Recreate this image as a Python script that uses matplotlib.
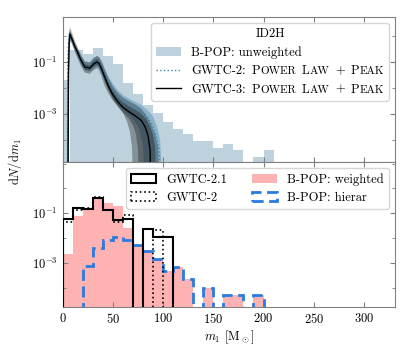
import numpy as np
import matplotlib
matplotlib.use("Agg")
import matplotlib.pyplot as plt
from matplotlib.offsetbox import TextArea, HPacker
from matplotlib.patches import Patch
from matplotlib.lines import Line2D
from matplotlib.ticker import FixedLocator, NullFormatter

plt.rcParams.update({
    "font.family": "serif",
    "font.serif": ["cmr10", "DejaVu Serif"],
    "mathtext.fontset": "cm",
    "axes.formatter.use_mathtext": True,
    "font.size": 9,
    "axes.edgecolor": "0.5",
    "xtick.color": "0.5",
    "ytick.color": "0.5",
    "xtick.labelcolor": "black",
    "ytick.labelcolor": "black",
    "xtick.direction": "in",
    "ytick.direction": "in",
    "xtick.top": True,
    "ytick.right": True,
})

# ---------------- data ----------------
# top panel: B-POP unweighted histogram
bpop_unw_edges = [0, 5.5, 7, 20, 30, 40, 50, 60, 70, 80, 90, 100, 110, 120,
                  130, 140, 150, 160, 170, 180, 190, 200, 210]
bpop_unw_vals = [0.02, 0, 0.29, 0.2, 0.33, 0.17, 0.083, 0.0145, 0.0055, 0.0022,
                 0.00107, 4.7e-4, 2.5e-4, 1.7e-4, 9e-5, 9e-5, 4.9e-5, 7e-5,
                 4e-5, 0, 2.2e-5, 3.9e-5]

# GWTC-3 Power Law + Peak (log10 dN/dm1)
g3_med_m = [5.3, 5.8, 6.5, 7.3, 9, 12, 15, 18, 22, 27, 31, 34, 36, 39, 42, 46,
            50, 55, 60, 66, 72, 78, 82, 85, 87, 88]
g3_med = [-6, -1.5, -0.3, 0.07, -0.1, -0.4, -0.65, -0.92, -1.2, -1.24, -1.08,
          -1.01, -1.05, -1.3, -1.6, -1.98, -2.27, -2.55, -2.76, -2.93, -3.08,
          -3.25, -3.5, -3.85, -4.4, -6]
g3_hi1_m = [5.0, 5.5, 6.5, 7.3, 9, 12, 15, 18, 22, 27, 31, 34, 36, 39, 42, 46,
            50, 55, 60, 66, 72, 78, 83, 87, 90, 92, 93]
g3_hi1 = [-6, -1.0, 0.0, 0.15, 0.0, -0.3, -0.55, -0.82, -1.1, -1.14, -0.97,
          -0.9, -0.93, -1.15, -1.45, -1.82, -2.1, -2.37, -2.56, -2.72, -2.85,
          -3.0, -3.2, -3.5, -3.85, -4.3, -6]
g3_lo1_m = [5.6, 6.2, 7.0, 7.5, 9, 12, 15, 18, 22, 27, 31, 34, 36, 39, 42, 46,
            50, 55, 60, 66, 70, 73, 75, 76]
g3_lo1 = [-6, -1.5, -0.3, -0.05, -0.2, -0.5, -0.75, -1.03, -1.3, -1.35, -1.2,
          -1.13, -1.18, -1.45, -1.78, -2.15, -2.45, -2.75, -2.98, -3.2, -3.45,
          -3.8, -4.4, -6]
g3_hi2_m = [4.6, 5.2, 6.0, 7.3, 9, 12, 15, 18, 22, 27, 31, 34, 36, 39, 42, 46,
            50, 55, 60, 66, 72, 78, 83, 88, 92, 95, 97]
g3_hi2 = [-6, -1.0, 0.1, 0.33, 0.15, -0.18, -0.45, -0.7, -0.98, -1.03, -0.85,
          -0.78, -0.8, -1.0, -1.3, -1.66, -1.95, -2.2, -2.38, -2.52, -2.64,
          -2.8, -3.05, -3.4, -3.8, -4.3, -6]
g3_lo2_m = [5.8, 6.5, 7.3, 8, 9, 12, 15, 18, 22, 27, 31, 34, 36, 39, 42, 46,
            50, 55, 60, 64, 67, 69, 70.5]
g3_lo2 = [-6, -1.5, -0.3, -0.2, -0.3, -0.6, -0.88, -1.15, -1.42, -1.47, -1.32,
          -1.25, -1.3, -1.6, -1.95, -2.25, -2.5, -2.7, -2.95, -3.3, -3.7, -4.3,
          -6]

# GWTC-2 Power Law + Peak (log10 dN/dm1)
g2_med_m = [4.6, 5.0, 6.0, 7.0, 9, 12, 15, 18, 22, 27, 31, 34, 36, 39, 42, 46,
            50, 55, 60, 66, 72, 78, 84, 89, 93, 96, 98]
g2_med = [-6, -1.0, -0.1, 0.02, -0.12, -0.42, -0.68, -0.92, -1.18, -1.2, -1.05,
          -0.98, -1.0, -1.22, -1.5, -1.85, -2.12, -2.38, -2.55, -2.68, -2.8,
          -2.92, -3.1, -3.4, -3.85, -4.4, -6]
g2_hi_m = [4.3, 4.8, 5.8, 7.0, 9, 12, 15, 18, 22, 27, 31, 34, 36, 39, 42, 46,
           50, 55, 60, 66, 72, 78, 84, 90, 94, 97, 100]
g2_hi = [-6, -1.0, 0.05, 0.2, 0.05, -0.25, -0.5, -0.75, -1.0, -1.02, -0.85,
         -0.8, -0.82, -1.0, -1.28, -1.6, -1.85, -2.1, -2.28, -2.42, -2.54,
         -2.66, -2.85, -3.1, -3.5, -4.0, -6]
g2_lo_m = [5.0, 5.6, 6.5, 7.5, 9, 12, 15, 18, 22, 27, 31, 34, 36, 39, 42, 46,
           50, 55, 60, 66, 72, 76, 80, 82]
g2_lo = [-6, -1.2, -0.25, -0.15, -0.28, -0.58, -0.85, -1.1, -1.36, -1.38,
         -1.25, -1.17, -1.2, -1.45, -1.75, -2.1, -2.4, -2.68, -2.88, -3.05,
         -3.3, -3.6, -4.2, -6]

# bottom panel histograms (10 Msun bins)
mass_edges = [0, 10, 20, 30, 40, 50, 60, 70, 80, 90, 100, 110, 120, 130, 140,
              150, 160, 170, 180, 190, 200]
gwtc21_vals = [0.059, 0.16, 0.15, 0.41, 0.13, 0.055, 0.060, 0, 0.023, 0.011,
               0.011, 0, 0, 0, 0, 0, 0, 0, 0, 0]
gwtc2_vals = [0.046, 0.13, 0.16, 0.45, 0.13, 0.046, 0.087, 0, 0, 0.021, 0, 0,
              0, 0, 0, 0, 0, 0, 0, 0]
bpop_w_vals = [2.2e-3, 0.079, 0.15, 0.37, 0.26, 0.2, 0.025, 5.4e-3, 2.9e-3,
               1.4e-3, 4.5e-4, 6.5e-4, 2.2e-4, 0, 1.0e-4, 0, 4.9e-5, 4.9e-5, 0,
               4.9e-5]
bpop_h_vals = [0, 0, 7.6e-4, 3.9e-3, 8.5e-3, 1.15e-2, 8.5e-3, 5.4e-3, 2.9e-3,
               1.4e-3, 4.5e-4, 6.5e-4, 2.2e-4, 0, 1.0e-4, 0, 4.9e-5, 4.9e-5, 0,
               4.9e-5]

FLOOR = 1e-12
def pos(v):
    v = np.asarray(v, dtype=float)
    return np.where(v > 0, v, FLOOR)

def band(ax, m_hi, hi, m_lo, lo, **kw):
    xs = np.concatenate([np.asarray(m_hi, float), np.asarray(m_lo, float)[::-1]])
    ys = np.concatenate([10.0 ** np.asarray(hi), 10.0 ** np.asarray(lo)[::-1]])
    ax.fill(xs, ys, **kw)

C_UNW = "#bdd2dc"
C_G2 = "#3f86b3"
C_RED = (1.0, 0.0, 0.0, 0.3)
C_HIER = "#2a7be0"

fig = plt.figure(figsize=(4.15, 3.46), dpi=100)
gs = fig.add_gridspec(2, 1, hspace=0, left=0.151, right=0.952, top=0.952,
                      bottom=0.1136)
ax1 = fig.add_subplot(gs[0])
ax2 = fig.add_subplot(gs[1], sharex=ax1)

# ---------- top panel ----------
ax1.set_yscale("log")
ax1.stairs(pos(bpop_unw_vals), bpop_unw_edges, fill=True, baseline=FLOOR,
           color=C_UNW, zorder=1)
band(ax1, g2_hi_m, g2_hi, g2_lo_m, g2_lo, color=C_G2, alpha=0.4, lw=0, zorder=2)
band(ax1, g3_hi2_m, g3_hi2, g3_lo2_m, g3_lo2, color="black", alpha=0.3, lw=0,
     zorder=3)
band(ax1, g3_hi1_m, g3_hi1, g3_lo1_m, g3_lo1, color="black", alpha=0.3, lw=0,
     zorder=4)
ax1.plot(g2_med_m, 10.0 ** np.asarray(g2_med), ls=":", color=C_G2, lw=1.0,
         zorder=5)
ax1.plot(g3_med_m, 10.0 ** np.asarray(g3_med), color="black", lw=1.0, zorder=6)

ax1.set_ylim(1.4e-5, 5.5)
ax1.tick_params(labelbottom=False)

h_top = [Patch(facecolor=C_UNW, edgecolor="none"),
         Line2D([], [], ls=":", color=C_G2, lw=1.0),
         Line2D([], [], color="black", lw=1.0)]
lab_top = ["B-POP: unweighted", "GWTC-2: Power Law + Peak",
           "GWTC-3: Power Law + Peak"]
leg1 = ax1.legend(h_top, lab_top, title="ID2H", loc="upper right",
                  fontsize=9, title_fontsize=9)

# ---------- bottom panel ----------
ax2.set_yscale("log")
ax2.stairs(pos(bpop_w_vals), mass_edges, fill=True, baseline=FLOOR,
           color=C_RED, lw=0, zorder=1)
ax2.stairs(pos(bpop_h_vals), mass_edges, fill=False, baseline=FLOOR,
           color=C_HIER, lw=2.0, ls=(0, (4, 2)), zorder=2)
ax2.stairs(pos(gwtc2_vals), mass_edges, fill=False, baseline=FLOOR,
           color="black", lw=1.2, ls=":", zorder=3)
ax2.stairs(pos(gwtc21_vals), mass_edges, fill=False, baseline=FLOOR,
           color="black", lw=1.5, zorder=4)
ax2.set_ylim(1.7e-5, 12)
ax2.set_xlim(0, 331)

h_bot = [Patch(facecolor="none", edgecolor="black", lw=1.5),
         Patch(facecolor="none", edgecolor="black", lw=1.2, ls=":"),
         Patch(facecolor=C_RED, edgecolor="none"),
         Patch(facecolor="none", edgecolor=C_HIER, lw=2.0, ls=(0, (4, 2)))]
lab_bot = ["GWTC-2.1", "GWTC-2", "B-POP: weighted", "B-POP: hierar"]
ax2.legend(h_bot, lab_bot, ncol=2, loc="upper right", fontsize=9)

for ax in (ax1, ax2):
    ax.yaxis.set_major_locator(FixedLocator([1e-5, 1e-3, 1e-1]))
    ax.yaxis.set_minor_locator(FixedLocator([1e-4, 1e-2, 1e0, 1e1]))
    ax.yaxis.set_minor_formatter(NullFormatter())
    ax.xaxis.set_major_locator(FixedLocator([0, 50, 100, 150, 200, 250, 300]))
    ax.tick_params(which="major", length=3.5, width=0.8)
    ax.tick_params(which="minor", length=2, width=0.6)

ax2.set_xlabel(r"$m_1$ [M$_\odot$]", labelpad=2)
fig.text(15 / 415, 1 - 162 / 346, r"$\mathrm{d}N/\mathrm{d}m_1$", rotation=90,
         ha="center", va="center", fontsize=9)

# small-caps rendering of "Power Law + Peak" in legend entries
def smallcaps_box(prefix, words, fs, fs_small):
    boxes = [TextArea(prefix, textprops=dict(fontsize=fs))]
    for w in words:
        if w == "+":
            boxes.append(TextArea("+", textprops=dict(fontsize=fs)))
        else:
            boxes.append(HPacker(children=[
                TextArea(w[0], textprops=dict(fontsize=fs)),
                TextArea(w[1:].upper(), textprops=dict(fontsize=fs_small))],
                align="baseline", pad=0, sep=0))
    return HPacker(children=boxes, align="baseline", pad=0, sep=4.2)

try:
    for col in leg1._legend_handle_box.get_children():
        rows = col.get_children()
        for row in rows:
            ch = row.get_children()
            txt = ch[1].get_text() if hasattr(ch[1], "get_text") else ""
            if "Power Law" in txt:
                prefix = txt.split(" Power")[0]
                ch[1] = smallcaps_box(prefix, ["Power", "Law", "+", "Peak"],
                                      9, 8.0)
    leg1._legend_box.set_figure(fig)
except Exception:
    pass

fig.savefig("out.png", dpi=100)
